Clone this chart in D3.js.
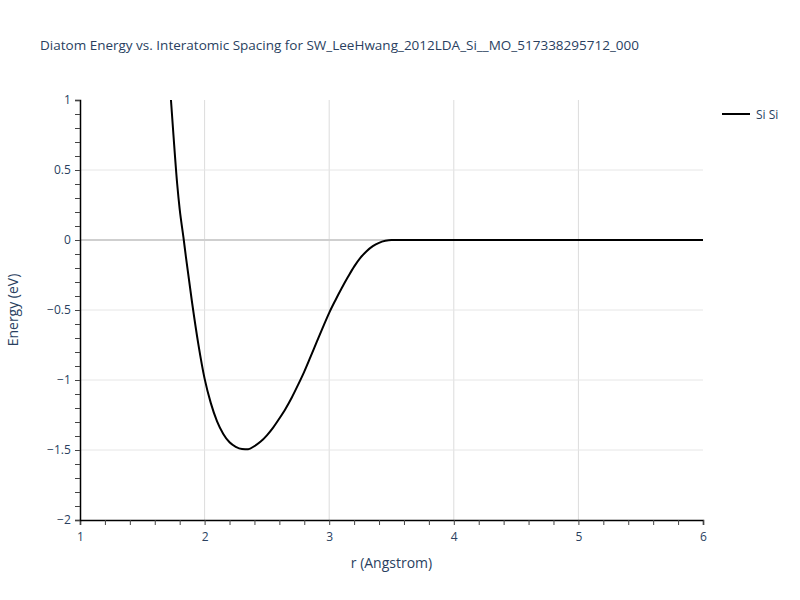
<!DOCTYPE html>
<html>
<head>
<meta charset="utf-8">
<script src="https://cdn.jsdelivr.net/npm/d3@7"></script>
<style>
    body { margin: 0; background: #fff; }
    text { font-family: "Open Sans", Verdana, Arial, sans-serif; fill: #2a3f5f; }
</style>
</head>
<body>
<svg id="chart" width="800" height="600"></svg>
<script>
/*global d3*/
// values
var title = "Diatom Energy vs. Interatomic Spacing for SW_LeeHwang_2012LDA_Si__MO_517338295712_000";
var seriesName = "Si Si";
var rValues = [1.73, 1.75, 1.78, 1.80, 1.83, 1.85, 1.90, 1.95, 2.00, 2.05, 2.10, 2.15, 2.20, 2.25,
    2.30, 2.35, 2.40, 2.45, 2.50, 2.55, 2.60, 2.65, 2.70, 2.75, 2.80, 2.85, 2.90, 2.95, 3.00,
    3.05, 3.10, 3.15, 3.20, 3.25, 3.30, 3.35, 3.40, 3.45, 3.50, 3.60, 4.00, 4.50, 5.00, 5.50, 6.00];
var energyValues = [1.0, 0.75, 0.40, 0.22, 0.02, -0.12, -0.45, -0.745, -0.99, -1.165, -1.295, -1.385, -1.445, -1.477,
    -1.492, -1.494, -1.472, -1.44, -1.395, -1.34, -1.275, -1.205, -1.125, -1.035, -0.94, -0.835, -0.728, -0.622, -0.52,
    -0.43, -0.345, -0.265, -0.19, -0.128, -0.08, -0.044, -0.02, -0.006, 0, 0, 0, 0, 0, 0, 0];
var xTicks = [1, 2, 3, 4, 5, 6];
var yTicks = [1, 0.5, 0, -0.5, -1, -1.5, -2];

(function () {
    "use strict";
    var svg = d3.select("#chart"),
        m = { left: 80, right: 703, top: 100, bottom: 520 };

    var x = d3.scaleLinear().domain([1, 6]).range([m.left, m.right]),
        y = d3.scaleLinear().domain([-2, 1]).range([m.bottom, m.top]);

    var data = rValues.map(function (r, i) {
        return { r: r, e: energyValues[i] };
    });

    // grid
    svg.append("g").selectAll("line").data(xTicks.slice(1, -1)).enter().append("line")
        .attr("x1", function (d) { return x(d); }).attr("x2", function (d) { return x(d); })
        .attr("y1", m.top).attr("y2", m.bottom)
        .attr("stroke", "#dcdcdc").attr("stroke-width", 1);
    svg.append("g").selectAll("line").data(yTicks.filter(function (d) { return d !== -2 && d !== 1; })).enter().append("line")
        .attr("x1", m.left).attr("x2", m.right)
        .attr("y1", function (d) { return y(d); }).attr("y2", function (d) { return y(d); })
        .attr("stroke", function (d) { return d === 0 ? "#cfcfcf" : "#e6e6e6"; })
        .attr("stroke-width", function (d) { return d === 0 ? 2 : 1; });

    // axes, minor ticks every 0.2 on x and 0.1 on y
    var fmt = function (d) { return d < 0 ? "\u2212" + Math.abs(d) : String(d); };
    var xAxis = svg.append("g").attr("transform", "translate(0," + m.bottom + ")")
        .call(d3.axisBottom(x).tickValues(d3.range(5, 31).map(function (d) { return d / 5; })).tickSize(5)
            .tickFormat(function (d) { return Math.abs(d - Math.round(d)) < 1e-6 ? Math.round(d) : ""; }));
    var yAxis = svg.append("g").attr("transform", "translate(" + m.left + ",0)")
        .call(d3.axisLeft(y).tickValues(d3.range(-20, 11).map(function (d) { return d / 10; })).tickSize(5)
            .tickFormat(function (d) { return Math.abs(d * 2 - Math.round(d * 2)) < 1e-6 ? fmt(d) : ""; }));
    [xAxis, yAxis].forEach(function (a) {
        a.select(".domain").attr("stroke", "#000").attr("stroke-width", 1.5);
        a.selectAll(".tick line").attr("stroke", "#444");
        a.selectAll(".tick text").style("font-size", "12px").attr("fill", "#2a3f5f");
    });
    xAxis.selectAll(".tick text").attr("dy", "1.1em");
    yAxis.selectAll(".tick text").attr("dx", "-0.1em");

    // curve
    svg.append("clipPath").attr("id", "clip").append("rect")
        .attr("x", m.left).attr("y", m.top).attr("width", m.right - m.left).attr("height", m.bottom - m.top);
    svg.append("path").datum(data)
        .attr("clip-path", "url(#clip)")
        .attr("fill", "none").attr("stroke", "#000").attr("stroke-width", 2)
        .attr("d", d3.line().curve(d3.curveMonotoneX)
            .x(function (d) { return x(d.r); }).y(function (d) { return y(d.e); }));

    // title and labels
    svg.append("text").attr("x", 40).attr("y", 50).style("font-size", "13.5px").text(title);
    svg.append("text").attr("x", (m.left + m.right) / 2).attr("y", 568).attr("text-anchor", "middle")
        .style("font-size", "14px").text("r (Angstrom)");
    svg.append("text").attr("transform", "translate(18," + (m.top + m.bottom) / 2 + ") rotate(-90)")
        .attr("text-anchor", "middle").style("font-size", "14px").text("Energy (eV)");

    // legend
    var legend = svg.append("g").attr("transform", "translate(722,114)");
    legend.append("line").attr("x1", 0).attr("x2", 28).attr("stroke", "#000").attr("stroke-width", 2);
    legend.append("text").attr("x", 34).attr("y", 4.5).style("font-size", "12px").text(seriesName);
}());
</script>
</body>
</html>
